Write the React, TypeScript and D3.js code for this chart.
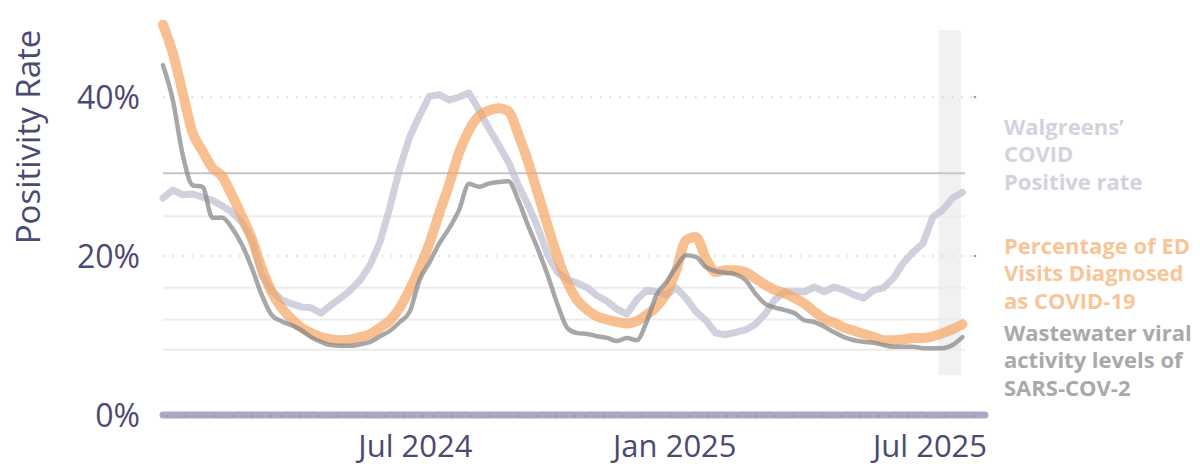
import * as d3 from 'd3';

const startDate = new Date(2024, 0, 4);
const endDate = new Date(2025, 7, 9);

// weekly values, % (first point is Jan 4 2024)
const edVisits = [
  49.1, 45.5, 40.5, 35.5, 33.2, 31.1, 30.0, 27.6, 25.0, 22.2,
  18.5, 15.5, 13.5, 12.1, 11.0, 10.3, 9.8, 9.5, 9.4, 9.5,
  9.8, 10.2, 11.0, 11.9, 13.5, 15.8, 18.5, 21.6, 25.4, 29.0,
  33.0, 35.8, 37.6, 38.3, 38.6, 38.2, 35.3, 31.8, 27.8, 23.7,
  19.8, 16.6, 14.4, 13.2, 12.4, 12.0, 11.7, 11.5, 11.8, 12.6,
  13.6, 15.3, 18.2, 22.0, 22.4, 19.7, 18.0, 18.2, 18.2, 18.0,
  17.2, 16.4, 15.7, 15.3, 14.7, 14.0, 13.0, 12.1, 11.6, 11.0,
  10.6, 10.2, 9.8, 9.4, 9.4, 9.5, 9.7, 9.7, 9.9, 10.3,
  10.8, 11.4,
];

const wastewater = [
  44.0, 39.6, 32.7, 28.9, 28.7, 24.8, 24.8, 23.5, 21.4, 18.5,
  15.1, 12.6, 11.8, 11.3, 10.7, 9.8, 9.2, 8.8, 8.7, 8.7,
  8.9, 9.2, 9.9, 10.6, 11.7, 13.0, 17.0, 19.2, 21.6, 23.5,
  25.8, 29.1, 28.7, 29.1, 29.3, 29.4, 27.0, 23.8, 20.8, 17.5,
  13.8, 10.9, 10.3, 10.2, 9.9, 9.7, 9.3, 9.7, 9.4, 11.7,
  15.1, 16.7, 18.6, 20.1, 19.9, 18.6, 18.1, 17.9, 17.7, 17.0,
  15.3, 14.0, 13.5, 13.2, 12.8, 11.9, 11.7, 11.1, 10.4, 9.8,
  9.4, 9.2, 9.1, 8.8, 8.6, 8.6, 8.6, 8.4, 8.4, 8.4,
  8.8, 9.8,
];

const walgreens = [
  27.3, 28.3, 27.7, 27.8, 27.4, 27.0, 26.3, 25.5, 24.2, 22.0,
  17.6, 15.7, 14.5, 14.0, 13.6, 13.5, 12.8, 13.8, 14.7, 15.7,
  17.0, 18.9, 21.8, 26.2, 31.1, 35.0, 37.7, 40.1, 40.3, 39.6,
  40.0, 40.5, 38.4, 36.1, 34.0, 31.8, 28.9, 26.4, 23.5, 20.1,
  17.9, 17.0, 16.6, 16.0, 15.0, 14.3, 13.3, 12.7, 14.5, 15.7,
  15.5, 15.1, 16.0, 14.7, 13.0, 11.9, 10.3, 10.1, 10.4, 10.7,
  11.4, 12.7, 14.5, 15.5, 15.5, 15.5, 16.1, 15.5, 16.1, 15.7,
  15.1, 14.7, 15.7, 16.0, 17.2, 19.1, 20.5, 21.6, 24.9, 25.8,
  27.3, 28.0,
];

const weeks = edVisits.map((_, i) => d3.timeDay.offset(startDate, i * 7));

const yTicks = [0, 20, 40];
const xTicks = [new Date(2024, 6, 1), new Date(2025, 0, 1), new Date(2025, 6, 1)];
const xTickLabels = ['Jul 2024', 'Jan 2025', 'Jul 2025'];
const dottedLines = [20, 40];
const solidLines = [30.4];
const faintLines = [25, 16, 12, 8.2];
const band = { from: new Date(2025, 6, 7), to: new Date(2025, 6, 23), top: 48.4, bottom: 5 };

const legend = [
  { lines: ['Walgreens\u2019', 'COVID', 'Positive rate'], color: '#d3d3de', y: 135 },
  { lines: ['Percentage of ED', 'Visits Diagnosed', 'as COVID-19'], color: '#f9c597', y: 254 },
  { lines: ['Wastewater viral', 'activity levels of', 'SARS-COV-2'], color: '#a9a9a9', y: 341 },
];

const textColor = '#4b4a70';

export default function App() {
  const x = d3.scaleTime().domain([startDate, endDate]).range([163, 985]);
  const y = d3.scaleLinear().domain([0, 40]).range([415, 97]);
  const gridEnd = 965;

  const line = (vals: number[]) =>
    d3.line<number>()
      .x((_, i) => x(weeks[i]))
      .y((d) => y(d))
      .curve(d3.curveMonotoneX)(vals) || '';

  const jagged = (vals: number[]) =>
    d3.line<number>()
      .x((_, i) => x(weeks[i]))
      .y((d) => y(d))
      .curve(d3.curveLinear)(vals) || '';

  return (
    <svg
      width={1200}
      height={469}
      style={{ position: 'absolute', left: 0, top: 0, background: '#fff' }}
      fontFamily="'Open Sans', sans-serif"
    >
      {/* shaded latest-weeks band */}
      <rect
        x={x(band.from)}
        width={x(band.to) - x(band.from)}
        y={y(band.top)}
        height={y(band.bottom) - y(band.top)}
        fill="#f1f1f1"
      />

      {/* grid */}
      {faintLines.map((v) => (
        <line key={'f' + v} x1={163} x2={gridEnd} y1={y(v)} y2={y(v)} stroke="#ececec" strokeWidth={2} />
      ))}
      {solidLines.map((v) => (
        <line key={'s' + v} x1={163} x2={gridEnd} y1={y(v)} y2={y(v)} stroke="#c6c6c6" strokeWidth={2} />
      ))}
      {dottedLines.map((v) => (
        <g key={'d' + v}>
          <line x1={163} x2={975} y1={y(v)} y2={y(v)} stroke="#cfcfcf" strokeWidth={1.5} strokeDasharray="1.5 8" />
          <circle cx={975} cy={y(v)} r={1.3} fill="#9a9a9a" />
        </g>
      ))}

      {/* series */}
      <path d={jagged(walgreens)} fill="none" stroke="#c4c4d6" strokeOpacity={0.8} strokeWidth={7} strokeLinejoin="round" strokeLinecap="round" />
      <path d={line(edVisits)} fill="none" stroke="#f5a462" strokeOpacity={0.7} strokeWidth={10} strokeLinejoin="round" strokeLinecap="round" />
      <path d={line(wastewater)} fill="none" stroke="#858585" strokeOpacity={0.72} strokeWidth={4.5} strokeLinejoin="round" strokeLinecap="round" />

      {/* x axis */}
      <line x1={163} x2={985} y1={y(0)} y2={y(0)} stroke="#aba8c4" strokeWidth={7} strokeLinecap="round" />
      <line x1={166} x2={982} y1={y(0) + 1} y2={y(0) + 1} stroke="#8e8bab" strokeWidth={1.5} strokeDasharray="1.5 8" />
      {xTicks.map((t, i) => (
        <text key={i} x={x(t)} y={457} textAnchor="middle" fontSize={31} fill={textColor}>
          {xTickLabels[i]}
        </text>
      ))}

      {/* y axis */}
      {yTicks.map((t) => (
        <text key={t} x={140} y={y(t)} dy="0.36em" textAnchor="end" fontSize={32} fill={textColor}>
          {t}%
        </text>
      ))}
      <text transform="translate(40,137) rotate(-90)" textAnchor="middle" fontSize={33} fill={textColor}>
        Positivity Rate
      </text>

      {/* legend */}
      {legend.map((g) => (
        <text key={g.lines[0]} x={1004} y={g.y} fontSize={22} fontWeight={700} fill={g.color}>
          {g.lines.map((l, j) => (
            <tspan key={j} x={1004} dy={j === 0 ? 0 : 27.3}>{l}</tspan>
          ))}
        </text>
      ))}
    </svg>
  );
}
